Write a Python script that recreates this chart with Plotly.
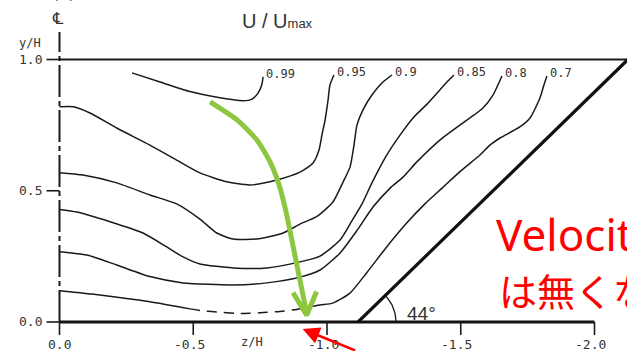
import numpy as np
import plotly.graph_objects as go

# ------------------------------------------------------------------
# Data (z/H, y/H)
# ------------------------------------------------------------------
levels = ["0.99", "0.95", "0.9", "0.85", "0.8", "0.7"]

c099_z = [-0.271, -0.376, -0.488, -0.589, -0.686, -0.718, -0.742, -0.756, -0.761]
c099_y = [0.949, 0.914, 0.878, 0.856, 0.843, 0.848, 0.872, 0.903, 0.934]

c095_z = [0.0, -0.052, -0.114, -0.214, -0.338, -0.438, -0.525, -0.625, -0.712, -0.812,
          -0.899, -0.948, -0.970, -0.981, -0.993, -1.004, -1.011, -1.026]
c095_y = [0.820, 0.820, 0.796, 0.739, 0.674, 0.617, 0.568, 0.534, 0.522, 0.541,
          0.571, 0.606, 0.655, 0.712, 0.770, 0.846, 0.903, 0.941]

c090_z = [0.0, -0.088, -0.214, -0.338, -0.438, -0.525, -0.588, -0.649, -0.737, -0.836,
          -0.899, -0.961, -1.022, -1.060, -1.086, -1.101, -1.112, -1.138, -1.168, -1.209, -1.243]
c090_y = [0.569, 0.560, 0.530, 0.484, 0.450, 0.392, 0.339, 0.316, 0.316, 0.339,
          0.373, 0.401, 0.457, 0.533, 0.590, 0.674, 0.750, 0.815, 0.865, 0.914, 0.941]

c085_z = [0.0, -0.065, -0.189, -0.312, -0.401, -0.462, -0.525, -0.649, -0.775, -0.899,
          -0.974, -1.049, -1.093, -1.131, -1.168, -1.221, -1.273, -1.325, -1.374, -1.422,
          -1.452, -1.475]
c085_y = [0.429, 0.419, 0.382, 0.339, 0.286, 0.248, 0.221, 0.206, 0.206, 0.229,
          0.251, 0.312, 0.385, 0.450, 0.530, 0.632, 0.712, 0.781, 0.830, 0.884,
          0.918, 0.941]

c080_z = [0.0, -0.102, -0.214, -0.338, -0.462, -0.649, -0.775, -0.899, -0.974, -1.049,
          -1.111, -1.172, -1.236, -1.284, -1.336, -1.422, -1.497, -1.583, -1.621, -1.639, -1.654]
c080_y = [0.268, 0.255, 0.217, 0.173, 0.149, 0.141, 0.149, 0.171, 0.198, 0.263,
          0.347, 0.438, 0.510, 0.552, 0.610, 0.693, 0.750, 0.815, 0.865, 0.903, 0.937]

# 0.7 contour: solid near the centreline, dashed near the floor, solid again
c070a_z = [0.0, -0.151, -0.338, -0.488]
c070a_y = [0.119, 0.103, 0.077, 0.050]
c070b_z = [-0.488, -0.525, -0.588, -0.662, -0.712, -0.761, -0.824, -0.887, -0.914]
c070b_y = [0.050, 0.044, 0.038, 0.033, 0.033, 0.036, 0.040, 0.048, 0.054]
c070c_z = [-0.914, -0.974, -1.022, -1.086, -1.148, -1.223, -1.298, -1.366, -1.430, -1.497,
           -1.572, -1.609, -1.647, -1.721, -1.759, -1.796, -1.811, -1.822]
c070c_y = [0.054, 0.065, 0.072, 0.110, 0.187, 0.286, 0.377, 0.450, 0.510, 0.573,
           0.636, 0.674, 0.701, 0.743, 0.777, 0.853, 0.903, 0.937]

# duct geometry
top_wall_z = [0.0, -2.125]
top_wall_y = [1.0, 1.0]
side_wall_z = [-1.116, -2.125]
side_wall_y = [0.0, 1.0]
floor_z = [0.0, -2.0]
floor_y = [0.0, 0.0]
centre_z = [0.0, 0.0]
centre_y = [0.0, 1.105]
wall_angle_label = "44°"

# axis ticks
xtick_vals = [0.0, -0.5, -1.0, -1.5, -2.0]
xtick_text = ["0.0", "-0.5", "-1.0", "-1.5", "-2.0"]
ytick_vals = [0.0, 0.5, 1.0]
ytick_text = ["0.0", "0.5", "1.0"]

# overlay annotations (green curved arrow)
arrow_z = [-0.563, -0.664, -0.738, -0.787, -0.821, -0.847, -0.873, -0.895, -0.914, -0.924]
arrow_y = [0.839, 0.770, 0.693, 0.610, 0.522, 0.419, 0.290, 0.179, 0.084, 0.034]
arrowhead_z = [-0.873, -0.924, -0.961]
arrowhead_y = [0.112, 0.026, 0.116]
red_tip = (-0.909, -0.027)

# ------------------------------------------------------------------
W, H = 627, 351
ink = "#1a1a1a"
txt = "#333333"
green = "#8DC63F"
mono = "DejaVu Sans Mono"

fig = go.Figure()

def line(z, y, width=1.5, color=ink, dash="solid", shape="spline"):
    fig.add_trace(go.Scatter(
        x=z, y=y, mode="lines",
        line=dict(color=color, width=width, dash=dash, shape=shape, smoothing=0.6),
        hoverinfo="skip", showlegend=False))

contours = [(c099_z, c099_y), (c095_z, c095_y), (c090_z, c090_y),
            (c085_z, c085_y), (c080_z, c080_y)]
for z, y in contours:
    line(z, y)
line(c070a_z, c070a_y)
line(c070b_z, c070b_y, dash="10px,7px")
line(c070c_z, c070c_y)

# walls
line(top_wall_z, top_wall_y, width=1.8, shape="linear")
line(side_wall_z, side_wall_y, width=3.2, color="#111111", shape="linear")
line(floor_z, floor_y, width=2.8, color="#111111", shape="linear")
line(centre_z, centre_y, width=2.0, dash="32px,4px,5px,4px", shape="linear")

# angle arc at the foot of the side wall (drawn in pixel-consistent units)
px_per_z = W / (0.2224 + 2.1215)
px_per_y = H / (1.2267 + 0.1105)
ang = np.radians(np.linspace(0, 44.5, 30))
r = 38
arc_z = side_wall_z[0] - r * np.cos(ang) / px_per_z
arc_y = r * np.sin(ang) / px_per_y
line(arc_z, arc_y, width=1.3, shape="linear")

# green arrow
line(arrow_z, arrow_y, width=5, color=green)
line(arrowhead_z, arrowhead_y, width=5, color=green, shape="linear")

shapes = []
for t in xtick_vals:
    shapes.append(dict(type="line", xref="x", yref="y", ysizemode="pixel", yanchor=0,
                       x0=t, x1=t, y0=0, y1=-13, line=dict(color=ink, width=1.6)))
for t in ytick_vals:
    shapes.append(dict(type="line", xref="x", yref="y", xsizemode="pixel", xanchor=0,
                       x0=-13, x1=0, y0=t, y1=t, line=dict(color=ink, width=1.6)))

ann = []
for t, s in zip(xtick_vals, xtick_text):
    ann.append(dict(x=t, y=0, xref="x", yref="y", text=s, showarrow=False,
                    xanchor="center", yanchor="top", yshift=-13,
                    xshift=(-3.9 if s.startswith("-") else 0),
                    font=dict(family=mono, size=13, color=txt)))
for t, s in zip(ytick_vals, ytick_text):
    ann.append(dict(x=0, y=t, xref="x", yref="y", text=s, showarrow=False,
                    xanchor="right", yanchor="middle", xshift=-15,
                    font=dict(family=mono, size=13, color=txt)))

ends = [(c099_z, c099_y), (c095_z, c095_y), (c090_z, c090_y),
        (c085_z, c085_y), (c080_z, c080_y), (c070c_z, c070c_y)]
for lab, (z, y) in zip(levels, ends):
    ann.append(dict(x=z[-1], y=y[-1], xref="x", yref="y", text=lab, showarrow=False,
                    xanchor="left", yanchor="middle", xshift=1, yshift=3,
                    font=dict(family=mono, size=12, color=txt)))

def ptext(px, py, text, size, family="Liberation Sans", color=txt, xa="center", ya="middle"):
    ann.append(dict(x=px / W, y=1 - py / H, xref="paper", yref="paper", text=text,
                    showarrow=False, xanchor=xa, yanchor=ya,
                    font=dict(family=family, size=size, color=color)))

ptext(277, 21, "U / U<span style='font-size:13px'>max</span>", 20)
ptext(30, 43, "y/H", 12, family=mono)
ptext(252, 342, "z/H", 12, family=mono)
ptext(58, 18, "℄", 16, family="DejaVu Sans")
ptext(50, 5, "(a) case 1-13", 13, family=mono, xa="left", ya="bottom")
ptext(421, 313, wall_angle_label, 19)
ptext(494, 234, "Velocity dip", 44, family="Noto Sans", color="#FF0000", xa="left")
ptext(497, 289, "は無くならない", 38, family="Noto Sans CJK JP", color="#FF0000", xa="left")

ann.append(dict(x=red_tip[0], y=red_tip[1], xref="x", yref="y", text="", showarrow=True,
                ax=54, ay=24, arrowhead=2, arrowsize=1.3, arrowwidth=2.6,
                arrowcolor="#FF0000", standoff=0))

fig.update_layout(
    width=W, height=H, margin=dict(l=0, r=0, t=0, b=0),
    paper_bgcolor="white", plot_bgcolor="white",
    xaxis=dict(range=[0.2224, -2.1215], visible=False, fixedrange=True),
    yaxis=dict(range=[-0.1105, 1.2267], visible=False, fixedrange=True),
    shapes=shapes, annotations=ann, showlegend=False,
)

fig.write_html("out.html", config={"displayModeBar": False},
               post_script="document.body.style.margin='0px';document.body.style.overflow='hidden';")
